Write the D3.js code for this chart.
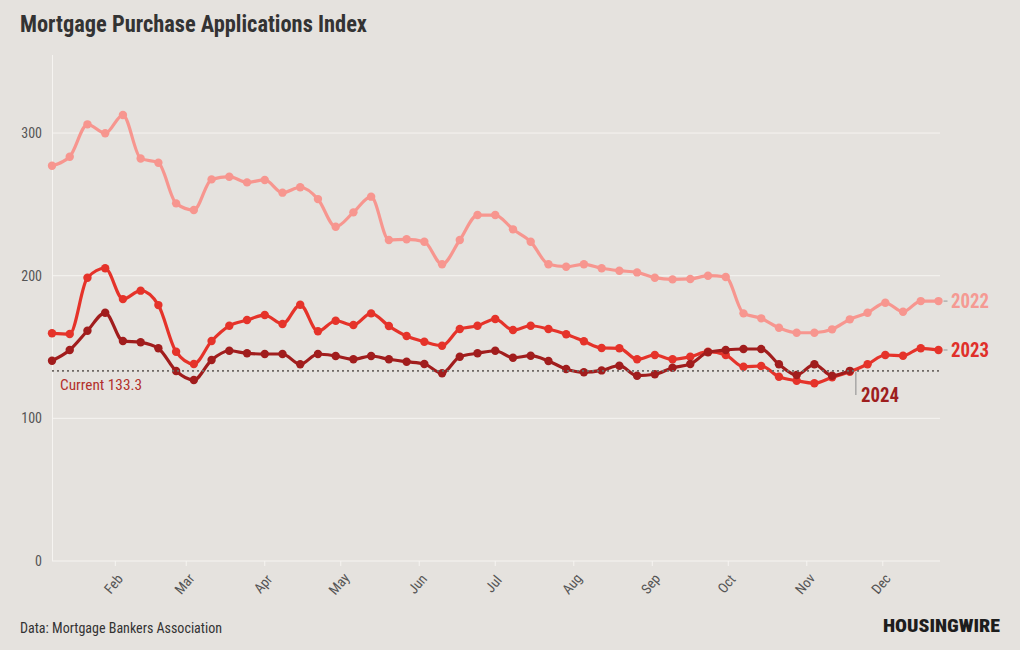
<!DOCTYPE html>
<html><head><meta charset="utf-8">
<script src="https://cdn.jsdelivr.net/npm/d3@7"></script>
<style>
html,body{margin:0;padding:0;background:#e5e2de;}
svg{display:block;font-family:"Roboto Condensed","Roboto",sans-serif;}
</style></head>
<body><svg id="c" width="1020" height="650"></svg>
<script>
const weeks = ["01-07","01-14","01-21","01-28","02-04","02-11","02-18","02-25","03-04","03-11","03-18","03-25",
"04-01","04-08","04-15","04-22","04-29","05-06","05-13","05-20","05-27","06-03","06-10","06-17","06-24",
"07-01","07-08","07-15","07-22","07-29","08-05","08-12","08-19","08-26","09-02","09-09","09-16","09-23","09-30",
"10-07","10-14","10-21","10-28","11-04","11-11","11-18","11-25","12-02","12-09","12-16","12-23"];
const values2022 = [277.1,283.4,306.1,299.8,312.6,282.2,279.2,250.7,246.0,267.5,269.4,265.4,267.1,258.2,262.0,253.7,234.3,244.4,255.4,225.0,225.5,223.8,208.0,225.0,242.5,242.5,232.5,223.8,208.0,206.3,208.0,205.2,203.5,202.3,198.6,197.4,197.7,200.0,199.1,173.6,170.1,163.5,160.0,160.0,162.4,169.4,174.0,181.0,174.7,182.2,182.2];
const values2023 = [159.6,159.1,198.6,205.2,183.6,189.5,179.4,146.7,138.1,154.2,164.9,168.9,172.4,166.1,179.6,161.0,168.4,165.4,173.6,164.7,157.7,153.7,150.9,162.6,164.9,169.6,161.9,164.9,162.6,158.9,154.0,149.3,149.1,141.4,144.4,141.4,143.2,146.7,144.4,136.2,136.7,129.2,126.4,124.6,128.8,132.7,137.9,144.4,143.9,149.1,147.9];
const values2024 = [140.4,147.9,161.4,174.0,154.2,153.3,149.1,133.2,126.9,140.9,147.4,145.6,145.1,145.1,137.9,145.1,143.7,141.4,143.7,141.4,139.7,138.1,131.6,143.2,145.6,147.4,142.5,143.9,140.2,134.6,132.3,133.6,136.9,129.9,130.9,135.5,138.1,146.3,147.9,148.6,148.6,137.9,130.4,137.9,129.9,133.3];
const yTicks = [0,100,200,300];
const monthTicks = ["02-01","03-01","04-01","05-01","06-01","07-01","08-01","09-01","10-01","11-01","12-01"];
const monthLabels = ["Feb","Mar","Apr","May","Jun","Jul","Aug","Sep","Oct","Nov","Dec"];
const current = 133.3;
const seriesNames = ["2022","2023","2024"];
const seriesColors = ["#f7968f","#e5332a","#a11d1d"];
const labelColors = ["#f59a93","#e0302a","#9e1e1e"];

const parse = d3.timeParse("%Y-%m-%d");
const dt = s => parse("2022-" + s);
const svg = d3.select("#c");
const x = d3.scaleTime().domain([dt(weeks[0]), dt(weeks[weeks.length-1])]).range([52, 938.5]);
const y = d3.scaleLinear().domain([0, 354.7]).range([561, 55]);

// title
svg.append("text").attr("x",20).attr("y",32).attr("font-size",23).attr("font-weight",700)
  .attr("fill","#333").attr("textLength",347).attr("lengthAdjust","spacingAndGlyphs")
  .text("Mortgage Purchase Applications Index");

// grid
svg.append("g").selectAll("line").data(yTicks).join("line")
  .attr("x1",52).attr("x2",940).attr("y1",d=>y(d)).attr("y2",d=>y(d))
  .attr("stroke","#f6f4f1").attr("stroke-width",1);
svg.append("line").attr("x1",52.5).attr("x2",52.5).attr("y1",55).attr("y2",561)
  .attr("stroke","#f6f4f1").attr("stroke-width",1);
svg.append("g").selectAll("text").data(yTicks).join("text")
  .attr("x",42).attr("y",d=>y(d)+5).attr("text-anchor","end").attr("font-size",14)
  .attr("fill","#555").text(d=>d);

// x ticks
const mt = monthTicks.map(dt);
svg.append("g").selectAll("line").data(mt).join("line")
  .attr("x1",d=>x(d)).attr("x2",d=>x(d)).attr("y1",561).attr("y2",566)
  .attr("stroke","#f6f4f1");
svg.append("g").selectAll("text").data(mt).join("text")
  .attr("transform",d=>`translate(${x(d)+2},587) rotate(-50)`)
  .attr("text-anchor","middle").attr("font-size",14).attr("fill","#555")
  .text((d,i)=>monthLabels[i]);

// lines
const allSeries = [values2022, values2023, values2024];
const line = d3.line().x((d,i)=>x(dt(weeks[i]))).y(d=>y(d)).curve(d3.curveMonotoneX);
allSeries.forEach((vals,k)=>{
  const g = svg.append("g");
  g.append("path").datum(vals).attr("d",line).attr("fill","none")
    .attr("stroke",seriesColors[k]).attr("stroke-width",3.2).attr("stroke-linejoin","round");
  g.selectAll("circle").data(vals).join("circle")
    .attr("cx",(d,i)=>x(dt(weeks[i]))).attr("cy",d=>y(d)).attr("r",4.2)
    .attr("fill",seriesColors[k]);
});

// current line
const lastIdx = values2024.length-1;
const lx = x(dt(weeks[lastIdx]));
svg.append("line").attr("x1",52).attr("x2",940).attr("y1",y(current)).attr("y2",y(current))
  .attr("stroke","#6f6a66").attr("stroke-width",1.6).attr("stroke-dasharray","2,3");
svg.append("text").attr("x",60).attr("y",390).attr("font-size",14).attr("fill","#b3302b")
  .attr("textLength",82).attr("lengthAdjust","spacingAndGlyphs")
  .text("Current " + current);

// labels
const endX = x(dt(weeks[weeks.length-1]));
[values2022, values2023].forEach((vals,k)=>{
  const yy = y(vals[vals.length-1]);
  svg.append("line").attr("x1",endX+5).attr("x2",endX+9).attr("y1",yy).attr("y2",yy)
    .attr("stroke","#999").attr("stroke-width",1);
  svg.append("text").attr("x",951).attr("y",yy+7).attr("font-size",20).attr("font-weight",700)
    .attr("fill",labelColors[k]).attr("textLength",38).attr("lengthAdjust","spacingAndGlyphs")
    .text(seriesNames[k]);
});
svg.append("line").attr("x1",lx+6).attr("x2",lx+6).attr("y1",y(current)+1).attr("y2",395)
  .attr("stroke","#999").attr("stroke-width",1.2);
svg.append("text").attr("x",861).attr("y",402).attr("font-size",20).attr("font-weight",700)
  .attr("fill",labelColors[2]).attr("textLength",38).attr("lengthAdjust","spacingAndGlyphs")
  .text(seriesNames[2]);

// footer
svg.append("text").attr("x",20).attr("y",633).attr("font-size",14).attr("fill","#333")
  .attr("textLength",202).attr("lengthAdjust","spacingAndGlyphs")
  .text("Data: Mortgage Bankers Association");
svg.append("text").attr("x",883).attr("y",632).attr("font-size",19).attr("font-weight",900)
  .attr("fill","#1d1d1d").attr("textLength",117).attr("lengthAdjust","spacingAndGlyphs")
  .text("HOUSINGWIRE");
</script></body></html>
